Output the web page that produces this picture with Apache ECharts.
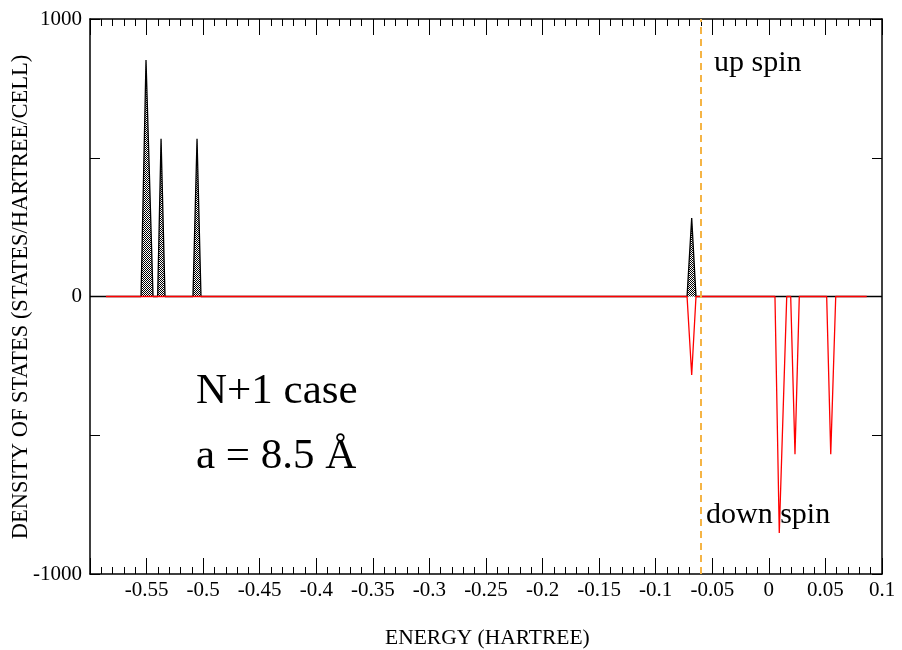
<!DOCTYPE html>
<html>
<head>
<meta charset="utf-8">
<script src="https://cdn.jsdelivr.net/npm/echarts@6/dist/echarts.min.js"></script>
<style>html,body{margin:0;padding:0;background:#fff}#c{width:902px;height:650px}</style>
</head>
<body>
<div id="c"></div>
<script>
// ---- data ----
var upEnergy   = [-0.6, -0.5549, -0.5505, -0.5443, -0.5402, -0.5372, -0.5337, -0.5090, -0.5054, -0.5019, -0.0723, -0.0682, -0.0644, 0.1];
var upDos      = [0, 0, 852, 0, 0, 568, 0, 0, 568, 0, 0, 283, 0, 0];
var downEnergy = [-0.5859, -0.0723, -0.0682, -0.0644, 0.0054, 0.0092, 0.0158, 0.0193, 0.0231, 0.0269, 0.0511, 0.0547, 0.0591, 0.0865];
var downDos    = [0, 0, -283, 0, 0, -852, 0, 0, -568, 0, 0, -568, 0, 0];
var fermiEnergy = -0.063;
var xTicks = {min: -0.6, max: 0.1, step: 0.05};
var yTicks = {min: -1000, max: 1000, step: 500};
var yLabelsShown = [-1000, 0, 1000];

var FONT = '"Liberation Serif", "DejaVu Serif", serif';

function pairs(xs, ys){ return xs.map(function(x,i){ return [x, ys[i]]; }); }

// dotted fill pattern
var pat = document.createElement('canvas');
pat.width = 2; pat.height = 2;
var pc = pat.getContext('2d');
pc.fillStyle = '#fff'; pc.fillRect(0,0,2,2);
pc.fillStyle = '#000'; pc.fillRect(0,0,1,1); pc.fillRect(1,1,1,1);

var chart = echarts.init(document.getElementById('c'), null, {renderer:'canvas'});

function xAxisCfg(pos, labels){
  return {
    type:'value', position:pos, min:xTicks.min, max:xTicks.max, interval:xTicks.step,
    axisLine:{show:true, onZero:false, lineStyle:{color:'#000', width:1.5}},
    axisTick:{show:true, inside:true, length:16, lineStyle:{color:'#000', width:1}},
    minorTick:{show:true, splitNumber:5, length:7, lineStyle:{color:'#000', width:1}},
    splitLine:{show:false},
    axisLabel:{show:labels, margin:6, fontFamily:FONT, fontSize:21, color:'#000',
      showMinLabel:true,
      formatter:function(v){ if (Math.abs(v - xTicks.min) < 1e-9) return ''; return String(parseFloat(v.toFixed(2))); }}
  };
}
function yAxisCfg(pos, labels){
  return {
    type:'value', position:pos, min:yTicks.min, max:yTicks.max, interval:yTicks.step,
    axisLine:{show:true, onZero:false, lineStyle:{color:'#000', width:1.5}},
    axisTick:{show:true, inside:true, length:10, lineStyle:{color:'#000', width:1}},
    splitLine:{show:false},
    axisLabel:{show:labels, margin:8, fontFamily:FONT, fontSize:21, color:'#000',
      formatter:function(v){ return yLabelsShown.indexOf(v) >= 0 ? String(v) : ''; }}
  };
}

chart.setOption({
  animation:false,
  backgroundColor:'#fff',
  grid:{left:90, right:20, top:19, bottom:76, containLabel:false},
  xAxis:[xAxisCfg('bottom', true), xAxisCfg('top', false)],
  yAxis:[yAxisCfg('left', true), yAxisCfg('right', false)],
  series:[
    {
      name:'up spin', type:'line', xAxisIndex:0, yAxisIndex:0,
      data:pairs(upEnergy, upDos), symbol:'none', z:2,
      lineStyle:{color:'#000', width:1.3},
      areaStyle:{color:{image:pat, repeat:'repeat'}, origin:0, opacity:1}
    },
    {
      name:'down spin', type:'line', xAxisIndex:0, yAxisIndex:0,
      data:pairs(downEnergy, downDos), symbol:'none', z:3,
      lineStyle:{color:'#ff0000', width:1.3},
      markLine:{
        silent:true, symbol:['none','none'], label:{show:false},
        lineStyle:{color:'#f5b445', width:2, type:[7,5]},
        data:[{xAxis:fermiEnergy}]
      }
    }
  ],
  graphic:[
    {type:'text', left:714, top:48, style:{text:'up spin', fontFamily:FONT, fontSize:30, fill:'#000'}},
    {type:'text', left:706, top:500, style:{text:'down spin', fontFamily:FONT, fontSize:30, fill:'#000'}},
    {type:'text', left:196, top:370, style:{text:'N+1 case', fontFamily:FONT, fontSize:43, fill:'#000'}},
    {type:'text', left:196, top:435, style:{text:'a = 8.5 Å', fontFamily:FONT, fontSize:43, fill:'#000'}},
    {type:'text', left:385, top:627, style:{text:'ENERGY (HARTREE)', fontFamily:FONT, fontSize:21.5, fill:'#000'}},
    {type:'text', x:21, y:297, rotation:Math.PI/2,
      style:{text:'DENSITY OF STATES (STATES/HARTREE/CELL)', fontFamily:FONT, fontSize:22.5, fill:'#000', textAlign:'center', textVerticalAlign:'middle'}}
  ]
});
</script>
</body>
</html>
